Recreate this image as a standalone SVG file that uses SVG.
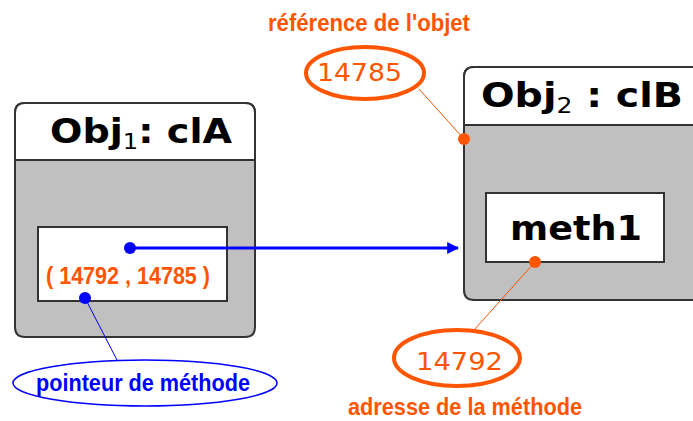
<svg xmlns="http://www.w3.org/2000/svg" width="693" height="421" viewBox="0 0 693 421">
<style>
.box{fill:#c0c0c0;stroke:#333;stroke-width:2}
.hdr{fill:#fff;stroke:#333;stroke-width:2}
.inner{fill:#fff;stroke:#333;stroke-width:2}
.title{font-family:"DejaVu Sans",sans-serif;font-weight:bold;font-size:33px;fill:#000}
.lbl{font-family:"Liberation Sans",sans-serif;font-weight:bold;font-size:23px}
.num{font-family:"DejaVu Sans",sans-serif;font-size:25px;fill:#ff5500}
.or{fill:#ff5500}
</style>
<defs>
<marker id="ab" viewBox="0 0 10 10" refX="9" refY="5" markerWidth="4" markerHeight="4" orient="auto" markerUnits="strokeWidth">
<path d="M0,0 L10,5 L0,10 z" fill="#0000ff"/>
</marker>
</defs>
<g id="obj1">
<path class="box" d="M25,103 H245 Q255,103 255,113 V327 Q255,337 245,337 H25 Q15,337 15,327 V113 Q15,103 25,103 Z"/>
<path class="hdr" d="M25,103 H245 Q255,103 255,113 V160 H15 V113 Q15,103 25,103 Z"/>
<text class="title" x="50" y="143" textLength="182" lengthAdjust="spacingAndGlyphs">Obj<tspan font-size="21" font-weight="normal" dy="6">1</tspan><tspan dy="-6">: clA</tspan></text>
<rect class="inner" x="38" y="227" width="189" height="74"/>
<text class="lbl or" x="46" y="284" textLength="164" lengthAdjust="spacingAndGlyphs">( 14792 , 14785 )</text>
</g>
<g id="obj2">
<path class="box" d="M474,67 H700 V300 H474 Q464,300 464,290 V77 Q464,67 474,67 Z"/>
<path class="hdr" d="M474,67 H700 V125 H464 V77 Q464,67 474,67 Z"/>
<text class="title" x="481" y="107" textLength="202" lengthAdjust="spacingAndGlyphs">Obj<tspan font-size="21" font-weight="normal" dy="6">2</tspan><tspan dy="-6"> : clB</tspan></text>
<rect class="inner" x="486" y="193" width="178" height="69"/>
<text class="title" x="510" y="240" textLength="132" lengthAdjust="spacingAndGlyphs">meth1</text>
</g>
<g id="ref">
<text class="lbl or" x="268" y="31" textLength="202" lengthAdjust="spacingAndGlyphs">référence de l'objet</text>
<ellipse cx="365" cy="73" rx="59" ry="26" fill="#fff" stroke="#ff5500" stroke-width="4"/>
<text class="num" x="317" y="81" textLength="85" lengthAdjust="spacingAndGlyphs">14785</text>
</g>
<g id="addr">
<ellipse cx="457" cy="358" rx="63" ry="28" fill="#fff" stroke="#ff5500" stroke-width="4"/>
<text class="num" x="416" y="370" font-size="27" textLength="87" lengthAdjust="spacingAndGlyphs">14792</text>
<text class="lbl or" x="348" y="415" font-size="21" textLength="234" lengthAdjust="spacingAndGlyphs">adresse de la méthode</text>
</g>
<g id="ptr">
<ellipse cx="145" cy="383" rx="132" ry="23" fill="#fff" stroke="#0000ff" stroke-width="1.5"/>
<text class="lbl" x="36" y="391" fill="#0000ff" font-size="24" textLength="214" lengthAdjust="spacingAndGlyphs">pointeur de méthode</text>
</g>
<g id="connectors">
<line x1="130" y1="248" x2="458" y2="248" stroke="#0000ff" stroke-width="3" marker-end="url(#ab)"/>
<circle cx="130" cy="248" r="6" fill="#0000ff"/>
<line x1="85" y1="298" x2="117" y2="360" stroke="#0000ff" stroke-width="1"/>
<circle cx="85" cy="298" r="6" fill="#0000ff"/>
<line x1="419" y1="89" x2="464" y2="139" stroke="#ff5500" stroke-width="1"/>
<circle cx="464" cy="139" r="6" fill="#ff5500"/>
<line x1="535" y1="262" x2="474" y2="330" stroke="#ff5500" stroke-width="1"/>
<circle cx="535" cy="262" r="6" fill="#ff5500"/>
</g>
</svg>
